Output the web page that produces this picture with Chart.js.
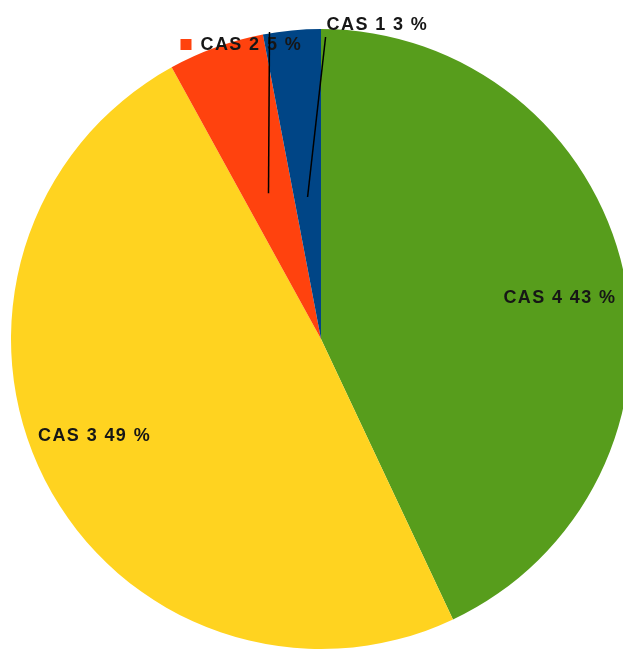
<!DOCTYPE html>
<html>
<head>
<meta charset="utf-8">
<script src="https://cdn.jsdelivr.net/npm/chart.js@4/dist/chart.umd.min.js"></script>
<style>
html, body { margin: 0; padding: 0; background: #fff; overflow: hidden; }
#wrap { position: absolute; left: 0; top: 0; width: 660px; height: 670px; }
</style>
</head>
<body>
<div id="wrap"><canvas id="pieCanvas"></canvas></div>
<script>
const categories = ['CAS 1', 'CAS 2', 'CAS 3', 'CAS 4'];
const shares = [3, 5, 49, 43];
const sliceColors = ['#004586', '#ff420e', '#ffd320', '#579d1c'];

// LibreOffice draws counter-clockwise from 12 o'clock, Chart.js clockwise,
// so feed the slices in reverse
const order = categories.map((_, i) => i).reverse();

// how each slice label is placed (inside on the slice, or outside with a leader line)
const labelStyle = {
    'CAS 1': { outside: true, anchor: 0.46, lineDx: 18, lineTop: 8, textDx: 19, textDy: -4, key: false },
    'CAS 2': { outside: true, anchor: 0.5, lineDx: 1, lineTop: 3, textDx: -68, textDy: 16, key: true },
    'CAS 3': { outside: false, dx: -11, dy: -13 },
    'CAS 4': { outside: false, dx: 3, dy: 12 }
};

const sliceLabels = {
    id: 'sliceLabels',
    afterDatasetsDraw(chart) {
        const ctx = chart.ctx;
        const meta = chart.getDatasetMeta(0);
        ctx.save();
        ctx.font = 'bold 18px "Liberation Sans", Arial, sans-serif';
        ctx.letterSpacing = '1.4px';
        ctx.fillStyle = '#161616';
        ctx.textBaseline = 'middle';
        meta.data.forEach((arc, i) => {
            const name = chart.data.labels[i];
            const value = chart.data.datasets[0].data[i];
            const text = name + ' ' + value + ' %';
            const st = labelStyle[name];
            const p = arc.getProps(['x', 'y', 'startAngle', 'endAngle', 'outerRadius'], true);
            const mid = (p.startAngle + p.endAngle) / 2;
            if (!st.outside) {
                ctx.textAlign = 'center';
                ctx.fillText(text, p.x + Math.cos(mid) * p.outerRadius * 0.78 + st.dx,
                    p.y + Math.sin(mid) * p.outerRadius * 0.78 + st.dy);
                return;
            }
            const top = p.y - p.outerRadius;
            const ax = p.x + Math.cos(mid) * p.outerRadius * st.anchor;
            const ay = p.y + Math.sin(mid) * p.outerRadius * st.anchor;
            const tx = ax + st.textDx;
            const ty = top + st.textDy;
            if (st.key) {
                ctx.fillStyle = chart.data.datasets[0].backgroundColor[i];
                ctx.fillRect(tx - 20, ty - 6, 11, 11);
                ctx.fillStyle = '#161616';
            }
            ctx.textAlign = 'left';
            ctx.fillText(text, tx, ty);
            ctx.beginPath();
            ctx.moveTo(ax, ay);
            ctx.lineTo(ax + st.lineDx, top + st.lineTop);
            ctx.strokeStyle = '#000';
            ctx.lineWidth = 1.5;
            ctx.stroke();
        });
        ctx.restore();
    }
};

const ctx = document.getElementById('pieCanvas').getContext('2d');
new Chart(ctx, {
    type: 'pie',
    data: {
        labels: order.map(i => categories[i]),
        datasets: [{
            data: order.map(i => shares[i]),
            backgroundColor: order.map(i => sliceColors[i]),
            borderWidth: 0,
            hoverOffset: 0
        }]
    },
    options: {
        responsive: true,
        maintainAspectRatio: false,
        animation: false,
        layout: { padding: { left: 11, right: 29, top: 29, bottom: 21 } },
        plugins: {
            legend: { display: false },
            tooltip: { enabled: false }
        }
    },
    plugins: [sliceLabels]
});
</script>
</body>
</html>
